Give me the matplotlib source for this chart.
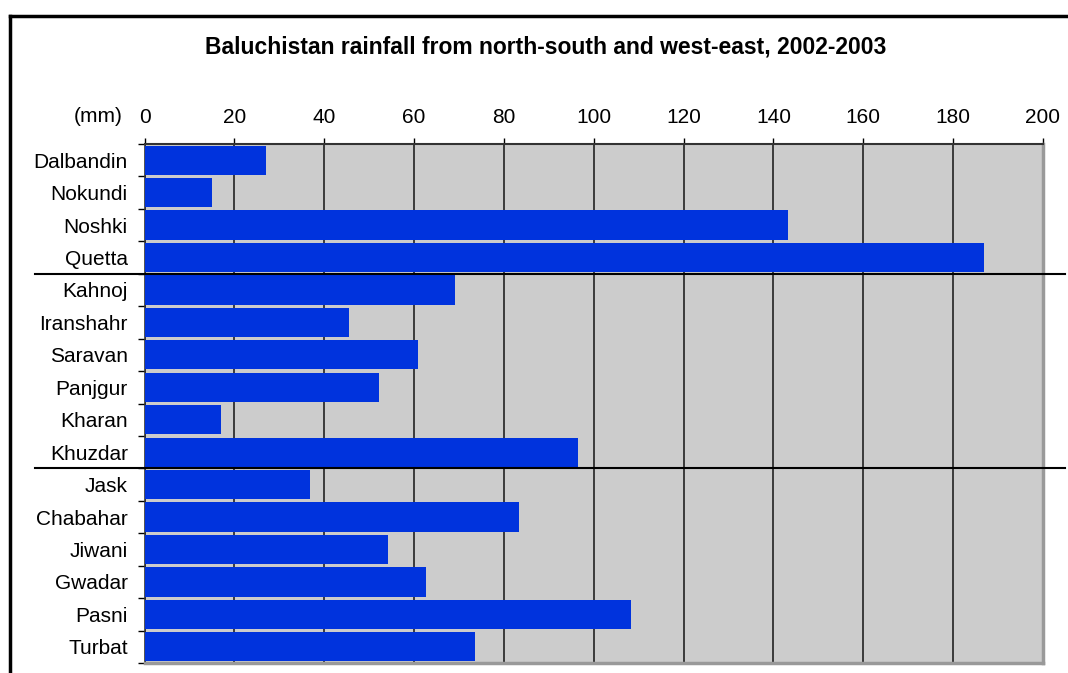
import matplotlib
matplotlib.use("Agg")
import matplotlib.pyplot as plt
from matplotlib.lines import Line2D
from matplotlib.transforms import blended_transform_factory

plt.rcParams['font.family'] = ['Liberation Sans', 'DejaVu Sans']

stations = ["Dalbandin", "Nokundi", "Noshki", "Quetta",
            "Kahnoj", "Iranshahr", "Saravan", "Panjgur", "Kharan", "Khuzdar",
            "Jask", "Chabahar", "Jiwani", "Gwadar", "Pasni", "Turbat"]
rainfall = [27.1, 15.1, 143.2, 186.9,
            69.1, 45.6, 60.8, 52.1, 17.1, 96.5,
            36.9, 83.4, 54.3, 62.6, 108.4, 73.5]
group_breaks = [3.5, 9.5]
x_ticks = [0, 20, 40, 60, 80, 100, 120, 140, 160, 180, 200]
title = "Baluchistan rainfall from north-south and west-east, 2002-2003"

W, H = 1068, 673
fig = plt.figure(figsize=(W / 100, H / 100), dpi=100)
ax = fig.add_axes([144.5 / W, 1 - 663 / H, (1043 - 144.5) / W, (663 - 144) / H])

ax.set_facecolor("#cccccc")
y = list(range(len(stations)))
ax.barh(y, rainfall, height=0.9, color="#0033dd", zorder=3)

ax.set_xlim(0, 200)
ax.set_ylim(len(stations) - 1 + 0.45, -0.45)

ax.set_xticks(x_ticks)
ax.xaxis.tick_top()
ax.tick_params(axis="x", direction="out", length=4.5, width=1, pad=7.5,
               labelsize=15, color="black")
ax.grid(axis="x", color="#222222", linewidth=1.2, zorder=1)

ax.set_yticks(y)
ax.set_yticklabels(stations)
ax.tick_params(axis="y", which="major", length=0, pad=12, labelsize=15)
ax.set_yticks([i + 0.5 for i in range(-1, len(stations))], minor=True)
ax.tick_params(axis="y", which="minor", direction="out", length=5, width=1, color="black")

ax.spines["top"].set_color("#333333")
ax.spines["left"].set_color("#333333")
ax.spines["top"].set_linewidth(1.5)
ax.spines["left"].set_linewidth(1.2)
ax.spines["right"].set_color("#999999")
ax.spines["bottom"].set_color("#999999")
ax.spines["right"].set_linewidth(2.5)
ax.spines["bottom"].set_linewidth(2.5)

# (mm) label
fig.text(123 / W, 1 - 116 / H, "(mm)", ha="right", va="center", fontsize=15)

# title
fig.text(546 / W, 1 - 47 / H, title, ha="center", va="center",
         fontsize=16.5, fontweight="bold")

# group separator lines
tr = blended_transform_factory(fig.transFigure, ax.transData)
for b in group_breaks:
    ax.add_line(Line2D([35 / W, 1065 / W], [b, b], transform=tr,
                       color="black", linewidth=1.5, clip_on=False, zorder=5))

# outer frame (partially visible)
fig.add_artist(Line2D([10 / W, 10 / W], [0, 1 - 16 / H], color="black",
                      linewidth=2.5, transform=fig.transFigure))
fig.add_artist(Line2D([10 / W, 1], [1 - 16 / H, 1 - 16 / H], color="black",
                      linewidth=2.5, transform=fig.transFigure))

fig.savefig("out.png", dpi=100, facecolor="white")
